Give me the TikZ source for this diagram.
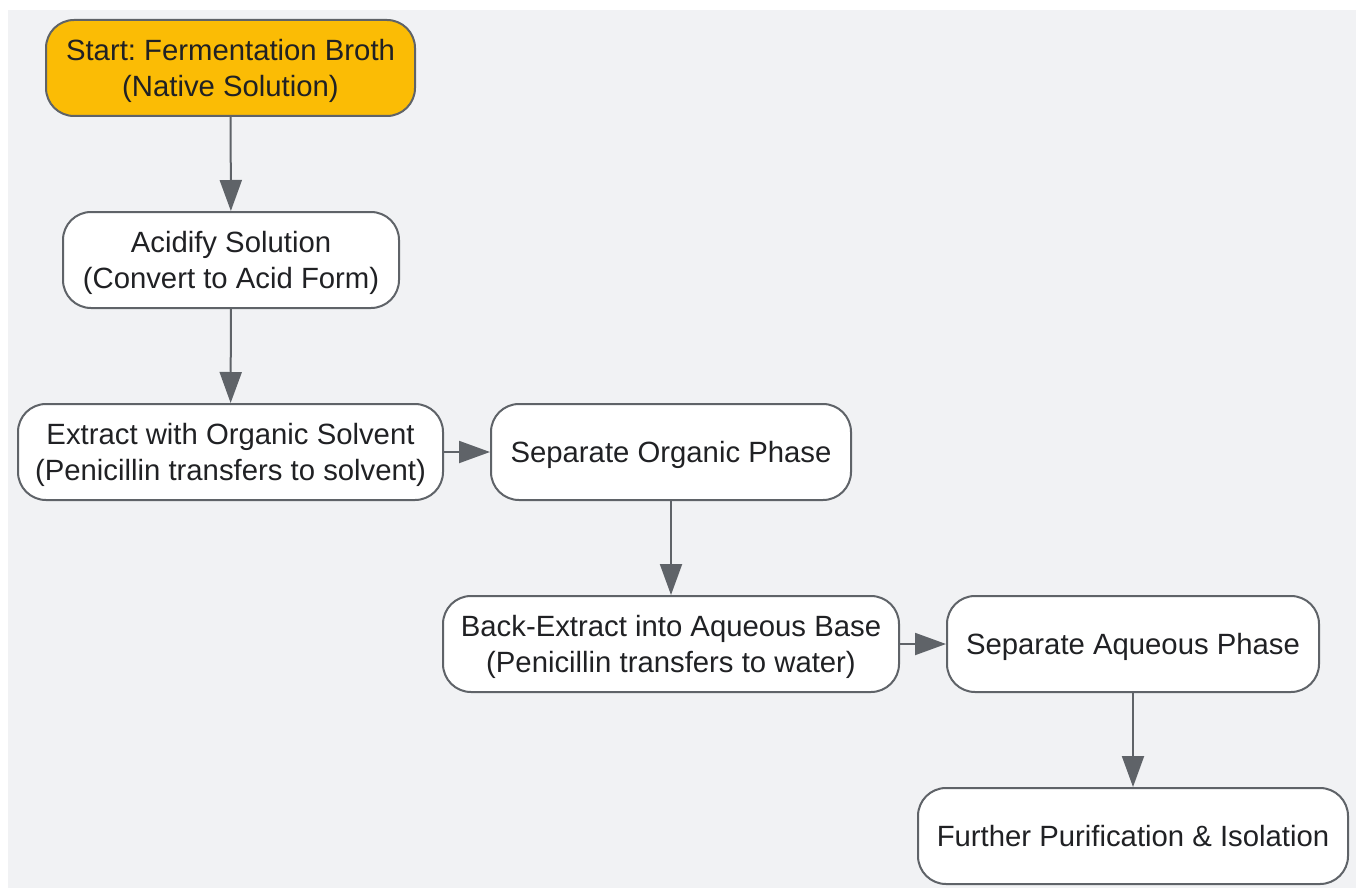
\documentclass[tikz,border=0pt]{standalone}
\usepackage{fontspec}
\setmainfont{Liberation Sans}
\usetikzlibrary{arrows.meta}
\definecolor{bgcol}{HTML}{F1F2F4}
\definecolor{bordercol}{HTML}{5F6368}
\definecolor{startcol}{HTML}{FBBC05}
\definecolor{textcol}{HTML}{202124}
\frenchspacing
\begin{document}
\begin{tikzpicture}[x=1pt,y=-1pt,
  box/.style={draw=bordercol, line width=2pt, rounded corners=28pt, fill=white,
    minimum height=96pt, align=center, inner sep=0pt, text depth=-2pt,
    font=\fontsize{29.3}{36}\selectfont, text=textcol},
  arr/.style={draw=bordercol, line width=2pt, -{Triangle[length=31pt,width=22pt]}}]
\useasboundingbox (0,0) rectangle (1356,888);
\fill[bgcol] (8,10) rectangle (1356,888);
\node[box, fill=startcol, minimum width=369pt] (start) at (230.5,68) {Start: Fermentation Broth\\(Native Solution)};
\node[box, minimum width=336pt] (acid) at (231,260) {Acidify Solution\\(Convert to Acid Form)};
\node[box, minimum width=425pt] (extract) at (230.5,452) {Extract with Organic Solvent\\(Penicillin transfers to solvent)};
\node[box, minimum width=360pt] (seporg) at (671,452) {Separate Organic Phase};
\node[box, minimum width=456pt] (back) at (671,644) {Back-Extract into Aqueous Base\\(Penicillin transfers to water)};
\node[box, minimum width=372pt] (sepaq) at (1133,644) {Separate Aqueous Phase};
\node[box, minimum width=430pt] (further) at (1133,836) {Further Purification \& Isolation};
\draw[arr] (start) -- (acid);
\draw[arr] (acid) -- (extract);
\draw[arr] (extract) -- (seporg);
\draw[arr] (seporg) -- (back);
\draw[arr] (back) -- (sepaq);
\draw[arr] (sepaq) -- (further);
\end{tikzpicture}
\end{document}
